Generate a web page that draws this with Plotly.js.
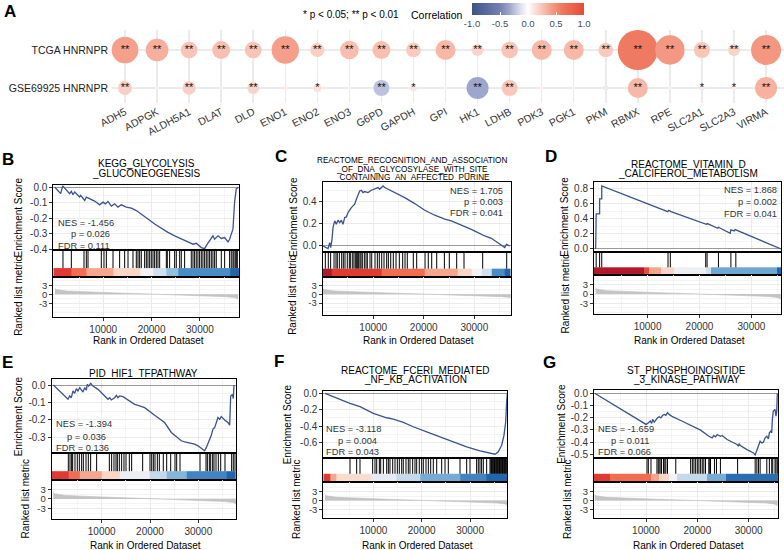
<!DOCTYPE html>
<html>
<head>
<meta charset="utf-8">
<script src="https://cdn.plot.ly/plotly-3.0.1.min.js"></script>
<style>html,body{margin:0;padding:0;background:#fff;}#chart{width:784px;height:550px;}</style>
</head>
<body>
<div id="chart"></div>
<script>
// ================= DATA =================
// Panel A: correlation bubble chart
const genes = ['ADH5','ADPGK','ALDH5A1','DLAT','DLD','ENO1','ENO2','ENO3','G6PD','GAPDH','GPI','HK1','LDHB','PDK3','PGK1','PKM','RBMX','RPE','SLC2A1','SLC2A3','VIRMA'];
const rows = ['GSE69925 HNRNPR','TCGA HNRNPR'];
const corrTCGA = [0.40,0.34,0.25,0.27,0.25,0.41,0.21,0.28,0.27,0.22,0.30,0.18,0.25,0.30,0.30,0.22,0.60,0.44,0.24,0.18,0.45];
const corrGSE  = [0.21,0.04,0.20,0.03,0.18,0.07,0.12,0.04,-0.24,0.10,0.04,-0.33,0.24,0.06,-0.05,-0.08,0.30,0.04,-0.08,0.07,0.33];
const sigTCGA = ['**','**','**','**','**','**','**','**','**','**','**','**','**','**','**','**','**','**','**','**','**'];
const sigGSE  = ['**','','**','','**','','*','','**','*','','**','**','','','','**','','*','*','**'];
const corrTicks = [-1,-0.5,0,0.5,1];

// GSEA running enrichment scores (rank, ES)
const esRankB = [0,1190,1610,3050,3400,3740,4090,5120,5330,6160,6500,7190,8220,9260,9950,10430,10980,11670,12360,13050,13740,14770,15810,16840,17870,19250,20630,22010,23390,24770,26140,27520,28560,29240,30280,30970,31520,32350,32690,33040,33730,34420,35110,35800,36140,36480,36830,37170,37520,37950];
const esScoreB = [0,-0.041,0.009,-0.041,-0.026,-0.048,-0.030,-0.063,-0.052,-0.085,-0.063,-0.074,-0.089,-0.113,-0.096,-0.107,-0.091,-0.122,-0.107,-0.128,-0.113,-0.128,-0.135,-0.150,-0.172,-0.204,-0.237,-0.265,-0.291,-0.313,-0.330,-0.352,-0.367,-0.361,-0.389,-0.396,-0.367,-0.324,-0.313,-0.335,-0.313,-0.330,-0.324,-0.352,-0.335,-0.302,-0.270,-0.096,-0.009,0];
const esRankC = [60,715,1050,1385,1580,1840,2040,2370,2700,3030,3360,3690,4020,4350,4680,5010,5340,5670,6000,6330,6660,6990,7320,7650,7980,8310,8970,9630,10290,10950,11280,11940,12270,12930,14250,16230,18210,20190,22170,24150,25450,26780,28100,29410,30730,32060,33370,34690,35680,36020,36350,37020];
const esScoreC = [0,-0.021,-0.024,0.030,-0.015,0.060,0.165,0.226,0.195,0.232,0.211,0.232,0.195,0.256,0.262,0.301,0.331,0.346,0.361,0.376,0.421,0.466,0.496,0.502,0.481,0.490,0.481,0.502,0.511,0.526,0.511,0.541,0.526,0.511,0.481,0.436,0.382,0.322,0.277,0.241,0.226,0.202,0.171,0.150,0.120,0.090,0.069,0.030,0,-0.015,0.015,0];
const esRankD = [0,100,760,760,1170,1170,13890,14080,14510,21320,21510,23530,23650,25920,26050,26680,26870,35700];
const esScoreD = [0,0.462,0.462,0.659,0.659,0.831,0.492,0.510,0.492,0.325,0.334,0.273,0.286,0.207,0.251,0.237,0.255,0];
const esRankE = [0,3020,3370,3710,4060,4400,4750,5090,5440,5780,6130,6470,6820,7020,7300,7720,8200,9230,9920,11300,11650,11990,12680,13030,13370,13720,14410,15440,16820,17510,18890,20960,23030,24410,25100,25790,26480,27170,27860,28550,29240,29930,30620,31310,31660,32000,32350,32690,33040,33380,33730,34070,34420,34760,35450,36140,36490,36700,37040,37250,37380];
const esScoreE = [0,-0.082,-0.063,-0.073,-0.034,-0.048,-0.021,-0.034,-0.015,-0.025,-0.040,-0.015,-0.029,0.004,-0.006,0.010,-0.006,-0.025,-0.044,-0.082,-0.073,-0.086,-0.073,-0.059,-0.073,-0.063,-0.067,-0.086,-0.111,-0.117,-0.130,-0.174,-0.216,-0.273,-0.289,-0.302,-0.321,-0.327,-0.331,-0.335,-0.340,-0.350,-0.365,-0.379,-0.359,-0.331,-0.312,-0.289,-0.254,-0.245,-0.207,-0.187,-0.197,-0.182,-0.201,-0.216,-0.231,-0.063,-0.054,-0.078,0];
const esRankF = [0,2410,5170,7240,9990,12760,14120,16190,18260,21030,23780,26530,29300,32050,34120,35160,35840,36540,37020,37370,37570,37700];
const esScoreF = [0,-0.061,-0.122,-0.163,-0.245,-0.298,-0.314,-0.355,-0.408,-0.469,-0.531,-0.592,-0.653,-0.702,-0.735,-0.743,-0.714,-0.633,-0.510,-0.347,-0.102,0];
const esRankG = [0,10000,10320,10830,11100,11290,11600,11930,12260,12570,12900,13230,13540,13870,14200,14500,15160,16770,18700,20640,22240,22900,23210,23540,23870,24500,24830,25140,25800,27730,28040,28120,28370,29670,30940,31270,31600,31910,32240,32570,32880,33210,33540,33850,34040,34310,34500,34620,34810,35140,35330,35470,35590];
const esScoreG = [0,-0.255,-0.247,-0.228,-0.247,-0.214,-0.236,-0.214,-0.201,-0.192,-0.201,-0.181,-0.173,-0.181,-0.159,-0.173,-0.192,-0.223,-0.264,-0.302,-0.352,-0.365,-0.346,-0.357,-0.338,-0.352,-0.346,-0.357,-0.379,-0.420,-0.434,-0.412,-0.429,-0.462,-0.489,-0.505,-0.462,-0.420,-0.393,-0.407,-0.401,-0.365,-0.352,-0.374,-0.324,-0.310,-0.324,-0.214,-0.146,-0.132,-0.187,-0.146,0];

// gene-set hit positions (barcode)
const hitsB = [1670,3400,6020,6500,6850,9600,10150,10640,12020,13390,14430,15120,16150,16840,17190,17530,17870,18560,18910,19250,19600,19940,20290,20630,20980,21320,21670,23050,23250,23730,24770,25110,25810,26140,26830,28210,28560,28900,29240,29590,29930,30280,30620,30970,31310,31660,32000,32350,32690,33040,33380,34420,35110,36140,36480,36830,37030,37310,37520,37730];
const hitsC = [520,1110,1570,2240,2630,2890,3290,3760,4080,4410,4870,5270,5540,5940,6200,6530,6730,6930,7120,7380,7580,7840,8240,8570,8830,9360,9700,10350,10810,11200,11680,12130,12660,12990,13460,13970,14510,15160,15830,16290,16740,17930,18600,20250,20890,21570,22560,24080,25050,26510,27960,31660,36410];
const hitsD = [100,760,1170,13940,14380,21200,21460,23650,26050,27000];
const hitsE = [3090,3440,3780,3990,4470,4950,5370,5850,6200,6750,7230,7710,8950,11580,12060,12540,12960,13240,13650,14130,14610,15030,15720,16200,18480,20000,20350,20690,21030,21520,21930,22750,23450,24280,25170,25520,26210,30350,31590,31870,32280,32560,32970,33240,33660,34140,34630,35520,36900,37240,37590];
const hitsF = [5170,6550,7240,9860,10340,10690,11240,11520,12070,12760,13100,13440,14000,14480,14960,15370,15860,16190,16750,17230,17580,18130,18610,18960,19500,19990,20330,20890,21370,21860,22400,23100,24130,24820,25500,27920,29300,29990,31360,31700,32050,32390,32740,33430,34120,34300,34450,34600,34750,34900,35050,35200,35350,35500,35650,35800,35950,36100,36250,36400,36550,36700,36850,37000,37150,37300,37450,37600];
const hitsG = [10190,10450,10970,12130,12380,12570,12900,13030,13420,13670,13870,14190,15800,18700,19030,19340,19670,20000,20310,20640,20960,21270,21600,22240,22430,22570,23340,23730,24500,27850,31270,31600,31910,32240,33540,34040,34500,34700,35140,35330,35590];

// ranked-metric colour strip: bin edges (rank) and metric level of each bin
const stripEdgesB = [0,3470,6580,12080,17600,20360,23120,25520,36210,38080];
const stripLevelB = [0.9,0.75,0.5,0.25,0,-0.25,-0.5,-0.75,-1];
const stripEdgesC = [0,1780,11600,20190,26780,29400,31380,33370,36010,37200];
const stripLevelC = [1,0.9,0.75,0.5,0.25,0,-0.25,-0.75,-1];
const stripEdgesD = [0,9350,10290,12680,15020,21320,22270,34890,35700];
const stripLevelD = [1,0.85,0.5,0.25,-0.05,-0.25,-0.62,-1];
const stripEdgesE = [0,3090,5510,10000,13790,20000,23450,27590,35870,37800];
const stripLevelE = [0.9,0.75,0.5,0.25,-0.05,-0.3,-0.55,-0.8,-1];
const stripEdgesF = [0,1000,2400,9650,14820,19650,27920,33430,37700];
const stripLevelF = [0.9,0.5,0.2,-0.1,-0.3,-0.6,-0.8,-1];
const stripEdgesG = [0,2900,11000,12570,14500,16130,21930,25600,35780];
const stripLevelG = [0.9,0.75,0.5,0.25,0,-0.3,-0.6,-0.95];

// ranked list metric
const metricRankLong  = [0,300,2400,6600,12800,19700,23100,30000,35500,37200,37900];
const metricRankShort = [0,280,2250,6200,12000,18500,21700,28200,33400,35000,35650];
const metricValue     = [2.0,1.6,1.1,0.75,0.45,0.1,-0.1,-0.35,-0.8,-1.1,-1.6];

// texts
const statsB = ['NES = -1.456','p = 0.026','FDR = 0.111'];
const statsC = ['NES = 1.705','p = 0.003','FDR = 0.041'];
const statsD = ['NES = 1.868','p = 0.002','FDR = 0.041'];
const statsE = ['NES = -1.394','p = 0.036','FDR = 0.136'];
const statsF = ['NES = -3.118','p = 0.004','FDR = 0.043'];
const statsG = ['NES = -1.659','p = 0.011','FDR = 0.066'];
const titleB = ['KEGG_GLYCOLYSIS','_GLUCONEOGENESIS'];
const titleC = ['REACTOME_RECOGNITION_AND_ASSOCIATION','_OF_DNA_GLYCOSYLASE_WITH_SITE','_CONTAINING_AN_AFFECTED_PURINE'];
const titleD = ['REACTOME_VITAMIN_D','_CALCIFEROL_METABOLISM'];
const titleE = ['PID_HIF1_TFPATHWAY'];
const titleF = ['REACTOME_FCERI_MEDIATED','_NF_KB_ACTIVATION'];
const titleG = ['ST_PHOSPHOINOSITIDE','_3_KINASE_PATHWAY'];
const rankTicks = [10000,20000,30000];
const rankMinor = [5000,15000,25000,35000];
const metricTicks = [-3,0,3];
const metricMinor = [-6,-4.5,-1.5,1.5,4.5];

// ================= BUILD =================
const W = 784, H = 550;
const FONT = 'Liberation Sans, Arial, Helvetica, sans-serif';
const px = x => x / W;
const py = y => 1 - y / H;
const domX = (a, b) => [a / W, b / W];
const domY = (top, bottom) => [1 - bottom / H, 1 - top / H];
const fmt = (v, d) => v.toFixed(d).replace('\u2212', '-');

const traces = [];
const layout = {
  width: W, height: H, margin: {l:0, r:0, t:0, b:0},
  paper_bgcolor: '#ffffff', plot_bgcolor: '#ffffff', showlegend: false,
  font: {family: FONT, size: 10, color: '#333'},
  annotations: [], shapes: []
};
function ann(text, x, y, opts) {
  layout.annotations.push(Object.assign({
    text: text, x: px(x), y: py(y), xref: 'paper', yref: 'paper', showarrow: false,
    xanchor: 'center', yanchor: 'middle', borderpad: 0,
    font: {family: FONT, size: 10, color: '#000'}
  }, opts || {}));
}

// ---- Panel A ----
const corrScale = [[0,'#3C5488'],[0.25,'#7481B2'],[0.335,'#9FA6CB'],[0.4,'#C9CDE3'],[0.45,'#E6E8F2'],[0.5,'#FFFFFF'],[0.55,'#FCE5DE'],[0.6,'#FAD0C4'],[0.7,'#F5A08B'],[0.8,'#EE7A62'],[1,'#E64B35']];
const allCorr = corrTCGA.concat(corrGSE);
traces.push({
  type: 'scatter', mode: 'markers+text', xaxis: 'x', yaxis: 'y',
  x: genes.concat(genes),
  y: genes.map(() => rows[1]).concat(genes.map(() => rows[0])),
  text: sigTCGA.concat(sigGSE), textposition: 'middle center',
  textfont: {family: FONT, size: 11, color: '#111'},
  cliponaxis: false, hoverinfo: 'skip',
  marker: {
    size: allCorr.map(v => Math.max(2, 66.7 * Math.abs(v))),
    color: allCorr, cmin: -1, cmax: 1, colorscale: corrScale, line: {width: 0}, opacity: 1,
    colorbar: {
      orientation: 'h', x: px(528), xanchor: 'center', y: py(3), yanchor: 'top',
      len: 112 / W, lenmode: 'fraction', thickness: 12, thicknessmode: 'pixels',
      outlinewidth: 0, xpad: 0, ypad: 0,
      tickmode: 'array', tickvals: corrTicks, ticktext: corrTicks.map(v => fmt(v, 1)),
      ticks: 'inside', ticklen: 3, tickcolor: '#ffffff',
      tickfont: {family: FONT, size: 9.5, color: '#4d4d4d'},
      title: {text: ''}
    }
  }
});
layout.xaxis = {
  domain: domX(112, 784), anchor: 'y', type: 'category', categoryorder: 'array', categoryarray: genes,
  range: [-0.406, 20.56], showgrid: true, gridcolor: '#EBEBEB', gridwidth: 1.5,
  zeroline: false, showline: false, ticks: '', tickangle: -28,
  tickfont: {family: FONT, size: 10.5, color: '#333'}, fixedrange: true
};
layout.yaxis = {
  domain: domY(30, 103), anchor: 'x', type: 'category', categoryorder: 'array', categoryarray: rows,
  range: [-0.395, 1.526], showgrid: true, gridcolor: '#EBEBEB', gridwidth: 1.5,
  zeroline: false, showline: false, ticks: '', ticklabelstandoff: 3,
  tickfont: {family: FONT, size: 10.5, color: '#222'}, fixedrange: true
};
ann('<b>A</b>', 10, 11, {font: {family: FONT, size: 17, color: '#000'}});
ann('* p < 0.05; ** p < 0.01', 302, 15, {xanchor: 'left', font: {family: FONT, size: 10, color: '#000'}});
ann('Correlation', 437, 15, {font: {family: FONT, size: 10.5, color: '#000'}});

// ---- GSEA panels ----
const stripScale = [[0,'#2166AC'],[0.125,'#4A8CC6'],[0.25,'#92C0DF'],[0.375,'#D1E1EF'],[0.5,'#F4F2F5'],[0.625,'#FBD6C6'],[0.75,'#F6A68C'],[0.875,'#F26C50'],[0.95,'#E03A32'],[1,'#B2182B']];

const panels = [
  {letter:'B', rank:esRankB, score:esScoreB, hits:hitsB, edges:stripEdgesB, levels:stripLevelB, mRank:metricRankLong, stats:statsB, title:titleB,
   box:{l:53.3, r:239, t:185, m1:250, m2:277, b:316.7}, xr:[-330, 38080], esr:[-0.4045, 0.0148], esStep:0.1,
   mr:[-7.47, 5.77], letterPos:[8,159], titleX:146, titleY:[163,173.3], titleSize:10,
   statsAlign:'left', statsPos:[[57.3,222.7],[69.7,234],[57.3,245.7]], esTitleX:18, rlmTitleX:19, xTitleY:340},
  {letter:'C', rank:esRankC, score:esScoreC, hits:hitsC, edges:stripEdgesC, levels:stripLevelC, mRank:metricRankLong, stats:statsC, title:titleC,
   box:{l:322.7, r:510.7, t:181.7, m1:252.3, m2:276.7, b:315}, xr:[0, 37200], esr:[-0.057, 0.579], esStep:0.2,
   mr:[-7.07, 6.0], letterPos:[281,156], titleX:412, titleY:[160.5,169,177.5], titleSize:8.2,
   statsAlign:'right', statsPos:[[504,190.7],[504,201.7],[504,213.3]], esTitleX:293, rlmTitleX:293, xTitleY:340},
  {letter:'D', rank:esRankD, score:esScoreD, hits:hitsD, edges:stripEdgesD, levels:stripLevelD, mRank:metricRankShort, stats:statsD, title:titleD,
   box:{l:594, r:781, t:181.7, m1:251.7, m2:275, b:314}, xr:[-320, 35700], esr:[-0.036, 0.886], esStep:0.2,
   mr:[-6.5, 6.2], letterPos:[551,156], titleX:688, titleY:[164.3,173.3], titleSize:10,
   statsAlign:'right', statsPos:[[778,190],[778,201.7],[778,214]], esTitleX:565, rlmTitleX:565, xTitleY:340},
  {letter:'E', rank:esRankE, score:esScoreE, hits:hitsE, edges:stripEdgesE, levels:stripLevelE, mRank:metricRankLong, stats:statsE, title:titleE,
   box:{l:51.7, r:236, t:379.3, m1:453.3, m2:480, b:519}, xr:[-350, 37800], esr:[-0.393, 0.033], esStep:0.1,
   mr:[-6.25, 5.9], letterPos:[7,362], titleX:143.5, titleY:[373.5], titleSize:10,
   statsAlign:'left', statsPos:[[54.7,424.3],[66.3,436.7],[54.7,448.3]], esTitleX:18, rlmTitleX:25, xTitleY:545.7},
  {letter:'F', rank:esRankF, score:esScoreF, hits:hitsF, edges:stripEdgesF, levels:stripLevelF, mRank:metricRankLong, stats:statsF, title:titleF,
   box:{l:323.3, r:507.3, t:391, m1:457.7, m2:481.7, b:518.3}, xr:[-350, 37700], esr:[-0.785, 0.028], esStep:0.2,
   mr:[-5.9, 6.3], letterPos:[279,361], titleX:415, titleY:[370.5,379.5], titleSize:10,
   statsAlign:'left', statsPos:[[325,429],[336.7,441],[325,452.3]], esTitleX:287, rlmTitleX:296, xTitleY:545.7},
  {letter:'G', rank:esRankG, score:esScoreG, hits:hitsG, edges:stripEdgesG, levels:stripLevelG, mRank:metricRankShort, stats:statsG, title:titleG,
   box:{l:594, r:778.3, t:390, m1:457.7, m2:481.7, b:518.3}, xr:[-135, 35780], esr:[-0.528, 0.027], esStep:0.1,
   mr:[-5.9, 6.3], letterPos:[549,362], titleX:686, titleY:[370.5,379.5], titleSize:10,
   statsAlign:'left', statsPos:[[597.3,428.7],[610,440.8],[597.3,452.2]], esTitleX:562, rlmTitleX:567, xTitleY:545.7}
];

const GRID = '#EBEBEB', MINOR = '#F1F1F1';
const tickFont = {family: FONT, size: 10, color: '#333'};
const metricTickFont = {family: FONT, size: 9.5, color: '#333'};
const STRIP_TOP = 0.33;

function stepVals(r, step) {
  const out = [];
  const k0 = Math.ceil(r[0] / step - 1e-9), k1 = Math.floor(r[1] / step + 1e-9);
  for (let k = k0; k <= k1; k++) out.push(Math.round(k * step * 1000) / 1000);
  return out;
}

panels.forEach((p, i) => {
  const a = 2 + 3 * i, m = a + 1, b = a + 2;
  const xd = domX(p.box.l, p.box.r);
  const boxLine = {showline: true, mirror: true, linecolor: '#000', linewidth: 1};

  // --- ES subplot ---
  const esMajor = stepVals(p.esr, p.esStep);
  const esMinor = stepVals(p.esr, p.esStep / 2).filter(v => !esMajor.some(u => Math.abs(u - v) < 1e-6));
  layout['xaxis' + a] = Object.assign({
    domain: xd, anchor: 'y' + a, range: p.xr, zeroline: false,
    tickmode: 'array', tickvals: rankTicks, showticklabels: false, ticks: '',
    showgrid: true, gridcolor: GRID, gridwidth: 1,
    minor: {tickmode: 'array', tickvals: rankMinor, showgrid: true, gridcolor: MINOR, gridwidth: 0.8, ticks: ''},
    fixedrange: true
  }, boxLine);
  layout['yaxis' + a] = Object.assign({
    domain: domY(p.box.t, p.box.m1), anchor: 'x' + a, range: p.esr,
    tickmode: 'array', tickvals: esMajor, ticktext: esMajor.map(v => fmt(v, 1)),
    ticks: 'outside', ticklen: 3, tickcolor: '#333', tickwidth: 1, tickfont: tickFont,
    showgrid: true, gridcolor: GRID, gridwidth: 1,
    minor: {tickmode: 'array', tickvals: esMinor, showgrid: true, gridcolor: MINOR, gridwidth: 0.8, ticks: ''},
    zeroline: true, zerolinecolor: '#9a9a9a', zerolinewidth: 1, fixedrange: true
  }, boxLine);
  traces.push({
    type: 'scatter', mode: 'lines', xaxis: 'x' + a, yaxis: 'y' + a,
    x: p.rank, y: p.score, line: {color: '#3B5294', width: 1.3}, hoverinfo: 'skip'
  });

  // --- barcode + colour strip subplot ---
  layout['xaxis' + m] = Object.assign({
    domain: xd, anchor: 'y' + m, range: p.xr, showgrid: false, zeroline: false,
    showticklabels: false, ticks: '', fixedrange: true
  }, boxLine);
  layout['yaxis' + m] = Object.assign({
    domain: domY(p.box.m1, p.box.m2), anchor: 'x' + m, range: [0, 1], showgrid: false, zeroline: false,
    showticklabels: false, ticks: '', fixedrange: true
  }, boxLine);
  const edges = p.edges.slice();
  edges[0] = Math.min(edges[0], p.xr[0]);
  edges[edges.length - 1] = Math.max(edges[edges.length - 1], p.xr[1]);
  traces.push({
    type: 'heatmap', xaxis: 'x' + m, yaxis: 'y' + m,
    x: edges, y: [0, STRIP_TOP], z: [p.levels],
    colorscale: stripScale, zmin: -1, zmax: 1, showscale: false, hoverinfo: 'skip', xgap: 0, ygap: 0
  });
  const bx = [], by = [];
  p.hits.forEach(h => { bx.push(h, h, null); by.push(STRIP_TOP, 1, null); });
  traces.push({
    type: 'scatter', mode: 'lines', xaxis: 'x' + m, yaxis: 'y' + m,
    x: bx, y: by, line: {color: '#000', width: 1}, hoverinfo: 'skip', connectgaps: false
  });

  // --- ranked list metric subplot ---
  layout['xaxis' + b] = Object.assign({
    domain: xd, anchor: 'y' + b, range: p.xr, zeroline: false,
    tickmode: 'array', tickvals: rankTicks, ticktext: rankTicks.map(String),
    ticks: 'outside', ticklen: 3, tickcolor: '#333', tickfont: tickFont,
    showgrid: true, gridcolor: GRID, gridwidth: 1,
    minor: {tickmode: 'array', tickvals: rankMinor, showgrid: true, gridcolor: MINOR, gridwidth: 0.8, ticks: ''},
    fixedrange: true
  }, boxLine);
  layout['yaxis' + b] = Object.assign({
    domain: domY(p.box.m2, p.box.b), anchor: 'x' + b, range: p.mr, zeroline: false,
    tickmode: 'array', tickvals: metricTicks, ticktext: metricTicks.map(String),
    ticks: 'outside', ticklen: 3, tickcolor: '#333', tickfont: metricTickFont,
    showgrid: true, gridcolor: GRID, gridwidth: 1,
    minor: {tickmode: 'array', tickvals: metricMinor, showgrid: true, gridcolor: MINOR, gridwidth: 0.8, ticks: ''},
    fixedrange: true
  }, boxLine);
  traces.push({
    type: 'scatter', mode: 'lines', xaxis: 'x' + b, yaxis: 'y' + b,
    x: p.mRank, y: metricValue, fill: 'tozeroy', fillcolor: '#C4C4C4',
    line: {color: '#BDBDBD', width: 0.6}, hoverinfo: 'skip'
  });

  // --- texts ---
  ann('<b>' + p.letter + '</b>', p.letterPos[0], p.letterPos[1], {font: {family: FONT, size: 17, color: '#000'}});
  p.title.forEach((t, k) => ann(t, p.titleX, p.titleY[k], {font: {family: FONT, size: p.titleSize, color: '#000'}}));
  p.stats.forEach((t, k) => ann(t, p.statsPos[k][0], p.statsPos[k][1],
    {xanchor: p.statsAlign, font: {family: FONT, size: 9.3, color: '#333'}}));
  ann('Enrichment Score', p.esTitleX, (p.box.t + p.box.m1) / 2, {textangle: -90, font: {family: FONT, size: 10, color: '#000'}});
  ann('Ranked list metric', p.rlmTitleX, (p.box.m2 + p.box.b) / 2, {textangle: -90, font: {family: FONT, size: 10, color: '#000'}});
  ann('Rank in Ordered Dataset', (p.box.l + p.box.r) / 2 + 2, p.xTitleY, {font: {family: FONT, size: 10, color: '#000'}});
});

Plotly.newPlot('chart', traces, layout, {staticPlot: true, displayModeBar: false});
</script>
</body>
</html>
